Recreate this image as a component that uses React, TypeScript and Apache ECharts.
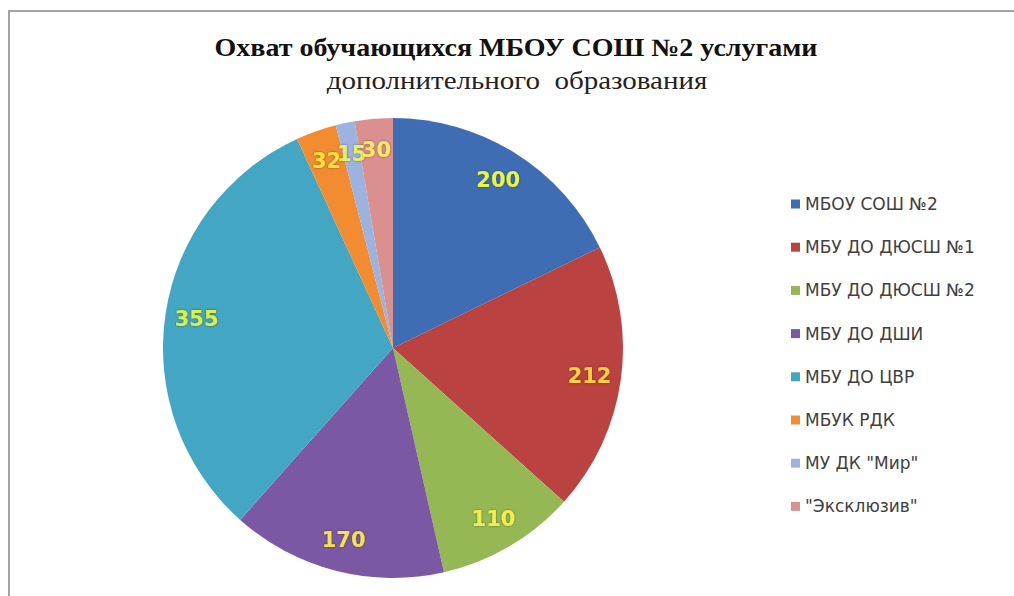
import React, { useEffect, useRef } from "react";
import * as echarts from "echarts";

const categories = [
  "МБОУ СОШ №2",
  "МБУ ДО ДЮСШ №1",
  "МБУ ДО ДЮСШ №2",
  "МБУ ДО ДШИ",
  "МБУ ДО ЦВР",
  "МБУК РДК",
  "МУ ДК \"Мир\"",
  "\"Эксклюзив\"",
];
const values = [200, 212, 110, 170, 355, 32, 15, 30];
const sliceColors = ["#3F6DB3", "#BA4240", "#96B854", "#7A58A3", "#43A6C2", "#F38C31", "#9BB3DE", "#D9908E"];
const labelColors = ["#E8F542", "#FFD23C", "#F2EE50", "#F2E250", "#DDF040", "#FFE040", "#E6F060", "#FFE860"];
const titleLines = ["Охват обучающихся МБОУ СОШ №2 услугами", "дополнительного  образования"];

export default function App() {
  const ref = useRef<HTMLDivElement>(null);
  useEffect(() => {
    if (!ref.current) return;
    const chart = echarts.init(ref.current, undefined, { renderer: "svg" });
    const R = 230;
    chart.setOption({
      animation: false,
      backgroundColor: "#ffffff",
      graphic: [
        {
          type: "rect",
          shape: { x: 9, y: 11, width: 1020, height: 600 },
          style: { fill: "none", stroke: "#a3a3a3", lineWidth: 2 },
          silent: true,
        },
        {
          type: "text",
          x: 516,
          y: 48,
          scaleX: 1.12,
          style: {
            text: titleLines[0],
            fontFamily: "Liberation Serif",
            fontWeight: "bold",
            fontSize: 25,
            fill: "#111111",
            textAlign: "center",
            textVerticalAlign: "middle",
          },
        },
        {
          type: "text",
          x: 517,
          y: 81,
          scaleX: 1.16,
          style: {
            text: titleLines[1],
            fontFamily: "Liberation Serif",
            fontSize: 25,
            fill: "#222222",
            textAlign: "center",
            textVerticalAlign: "middle",
          },
        },
      ],
      legend: {
        orient: "vertical",
        left: 786,
        top: 189,
        itemWidth: 9,
        itemHeight: 9,
        itemGap: 23.2,
        icon: "rect",
        data: categories,
        textStyle: {
          fontFamily: "DejaVu Sans",
          fontSize: 17,
          lineHeight: 20,
          color: "#404040",
        },
      },
      series: [
        {
          type: "pie",
          center: [393, 348],
          radius: [0, R],
          startAngle: 90,
          label: { show: false },
          labelLine: { show: false },
          data: categories.map((name, i) => ({
            name,
            value: values[i],
            itemStyle: { color: sliceColors[i] },
          })),
        },
        {
          type: "pie",
          center: [393, 348],
          radius: [R * 0.7, R],
          startAngle: 90,
          silent: true,
          itemStyle: { color: "rgba(0,0,0,0)" },
          labelLine: { show: false },
          labelLayout: { hideOverlap: false },
          label: {
            show: true,
            position: "inside",
            formatter: "{c}",
            overflow: "none",
            fontFamily: "DejaVu Sans",
            fontWeight: "bold",
            fontSize: 21,
            textShadowColor: "rgba(0,0,0,0.45)",
            textShadowBlur: 2,
          },
          data: categories.map((name, i) => ({
            name,
            value: values[i],
            itemStyle: { color: "rgba(0,0,0,0)" },
            label: { color: labelColors[i] },
          })),
        },
      ],
    });
    return () => chart.dispose();
  }, []);
  return (
    <div
      ref={ref}
      style={{ position: "fixed", left: 0, top: 0, width: 1014, height: 596 }}
    />
  );
}
